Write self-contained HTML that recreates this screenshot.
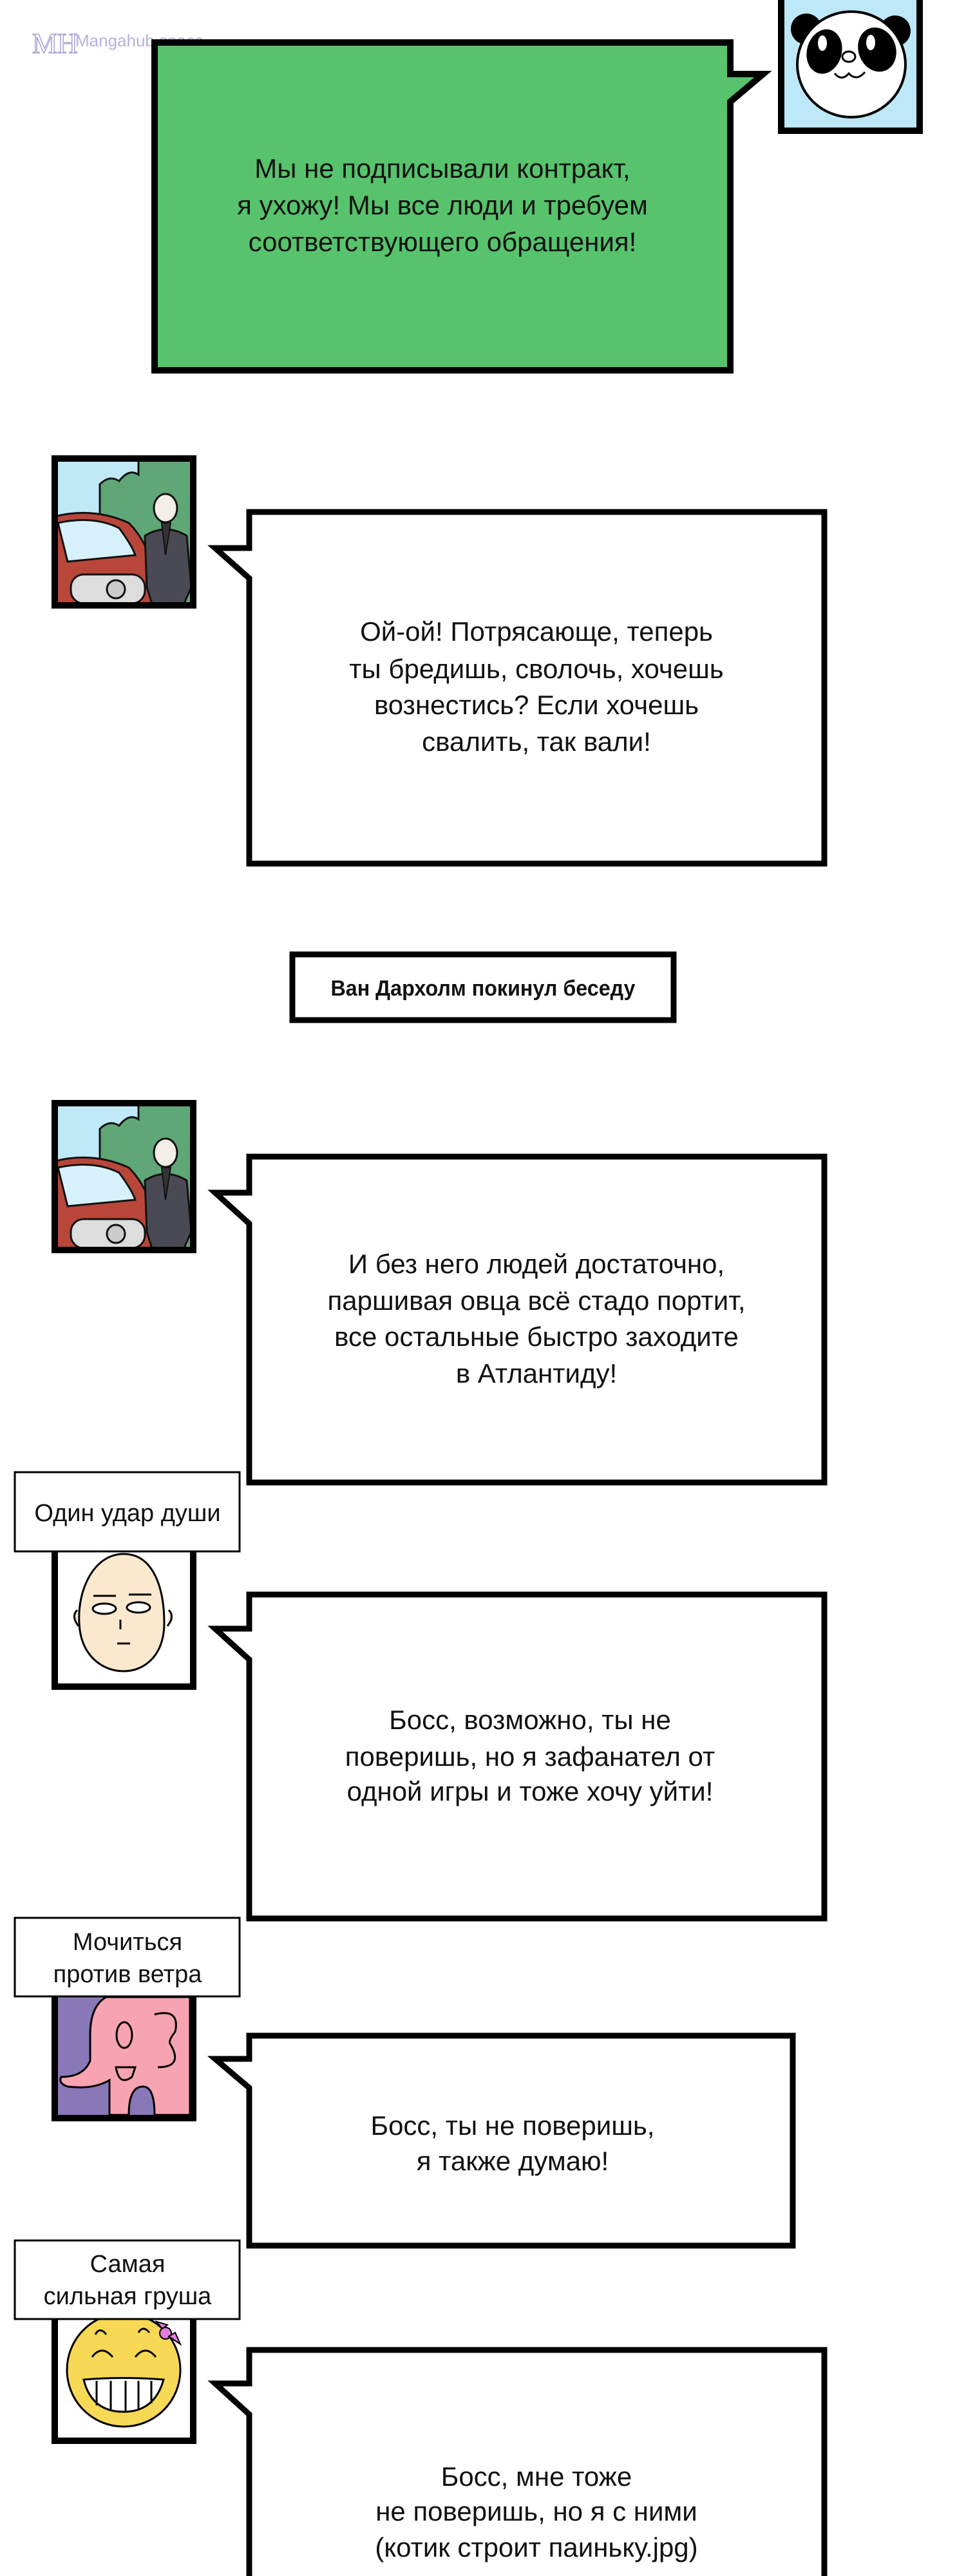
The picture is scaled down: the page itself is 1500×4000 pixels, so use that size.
<!DOCTYPE html>
<html><head><meta charset="utf-8">
<style>
html,body{margin:0;padding:0;background:#fff;}
body{width:1500px;height:4000px;overflow:hidden;}
svg{display:block;}
text{font-family:"Liberation Sans",Arial,sans-serif;fill:#111;}
</style></head>
<body>
<svg width="1500" height="4000" viewBox="0 0 1500 4000" xmlns="http://www.w3.org/2000/svg">
<defs>
  <clipPath id="cc"><rect x="0" y="0" width="215" height="228"/></clipPath>
  <g id="car" clip-path="url(#cc)">
    <rect x="0" y="0" width="215" height="228" fill="#bfe9f7"/>
    <path d="M70,40 Q85,25 100,35 Q115,15 130,25 L130,0 L225,0 L225,238 L70,238 Z" fill="#5fa777" stroke="#111" stroke-width="3"/>
    <path d="M0,90 Q60,75 115,100 Q145,130 155,180 L160,238 L0,238 Z" fill="#b8473a" stroke="#111" stroke-width="3"/>
    <path d="M5,100 Q60,88 100,108 Q120,135 125,150 L20,160 Z" fill="#d6f1fb" stroke="#111" stroke-width="3"/>
    <rect x="25" y="180" width="115" height="45" rx="20" fill="#ddd" stroke="#111" stroke-width="3"/>
    <circle cx="95" cy="203" r="14" fill="#ccc" stroke="#111" stroke-width="3"/>
    <ellipse cx="172" cy="77" rx="18" ry="22" fill="#f4efe6" stroke="#111" stroke-width="3"/>
    <path d="M140,120 Q172,100 205,120 L212,200 L195,238 L155,238 L143,200 Z" fill="#4a4a55" stroke="#111" stroke-width="3"/>
    <path d="M166,100 L172,150 L180,100 Z" fill="#333" stroke="#111" stroke-width="2"/>
  </g>
</defs>

<!-- watermark -->
<text x="50" y="82" font-size="44" style="font-family:'Liberation Serif',serif;fill:none;stroke:#a9a2d6;stroke-width:1.5">MH</text>
<text x="117" y="72" font-size="26" style="fill:#b7b0e0">Mangahub.space</text>

<!-- green bubble -->
<path d="M240,66 H1134 V115 L1185,115 L1134,158 V575 H240 Z" fill="#57c36c" stroke="#000" stroke-width="10" stroke-linejoin="miter"/>
<g font-size="42" text-anchor="middle">
<text x="687" y="276">Мы не подписывали контракт,</text>
<text x="687" y="333">я ухожу! Мы все люди и требуем</text>
<text x="687" y="390">соответствующего обращения!</text>
</g>

<!-- panda avatar -->
<rect x="1213" y="-10" width="215" height="213" fill="#bde8f8" stroke="#000" stroke-width="10"/>
<circle cx="1252" cy="45" r="24" fill="#000"/>
<circle cx="1390" cy="48" r="24" fill="#000"/>
<ellipse cx="1322" cy="100" rx="84" ry="82" fill="#fff" stroke="#000" stroke-width="4"/>
<ellipse cx="1280" cy="80" rx="27" ry="35" fill="#000" transform="rotate(15 1280 80)"/>
<ellipse cx="1362" cy="77" rx="29" ry="35" fill="#000" transform="rotate(-20 1362 77)"/>
<ellipse cx="1277" cy="67" rx="7" ry="12" fill="#fff"/>
<ellipse cx="1352" cy="66" rx="7" ry="12" fill="#fff"/>
<ellipse cx="1318" cy="88" rx="10" ry="8" fill="#fff" stroke="#000" stroke-width="3"/>
<path d="M1296,114 Q1307,127 1318,114 Q1330,127 1343,112" fill="none" stroke="#000" stroke-width="3"/>

<!-- bubble 2 -->
<use href="#car" x="85" y="712"/>
<rect x="85" y="712" width="215" height="228" fill="none" stroke="#000" stroke-width="10"/>
<path d="M387,795 H1280 V1341 H387 V898 L334,851 H387 Z" fill="#fff" stroke="#000" stroke-width="9"/>
<g font-size="42" text-anchor="middle">
<text x="833" y="995">Ой-ой! Потрясающе, теперь</text>
<text x="833" y="1053">ты бредишь, сволочь, хочешь</text>
<text x="833" y="1109">вознестись? Если хочешь</text>
<text x="833" y="1166">свалить, так вали!</text>
</g>

<!-- system -->
<rect x="454" y="1482" width="592" height="102" fill="#fff" stroke="#000" stroke-width="9"/>
<text x="750" y="1546" font-size="34" font-weight="bold" text-anchor="middle" textLength="473" lengthAdjust="spacingAndGlyphs">Ван Дархолм покинул беседу</text>

<!-- bubble 3 -->
<use href="#car" x="85" y="1713"/>
<rect x="85" y="1713" width="215" height="228" fill="none" stroke="#000" stroke-width="10"/>
<path d="M387,1796 H1280 V2302 H387 V1900 L334,1852 H387 Z" fill="#fff" stroke="#000" stroke-width="9"/>
<g font-size="42" text-anchor="middle">
<text x="833" y="1977">И без него людей достаточно,</text>
<text x="833" y="2034">паршивая овца всё стадо портит,</text>
<text x="833" y="2090">все остальные быстро заходите</text>
<text x="833" y="2147">в Атлантиду!</text>
</g>

<!-- saitama -->
<rect x="85" y="2400" width="215" height="219" fill="#fff" stroke="#000" stroke-width="10"/>
<path d="M120,2500 Q110,2510 122,2525 M262,2500 Q272,2510 260,2525" fill="#fce8cf" stroke="#000" stroke-width="3"/>
<path d="M192,2413 C240,2413 255,2470 255,2520 C255,2570 225,2595 192,2595 C158,2595 125,2570 123,2520 C120,2470 145,2413 192,2413 Z" fill="#fce8cf" stroke="#000" stroke-width="3"/>
<path d="M145,2478 H180 M200,2476 H235" stroke="#000" stroke-width="3"/>
<ellipse cx="162" cy="2498" rx="18" ry="8" fill="#fff" stroke="#000" stroke-width="3"/>
<ellipse cx="215" cy="2496" rx="18" ry="8" fill="#fff" stroke="#000" stroke-width="3"/>
<path d="M187,2515 V2530 M182,2552 H202" stroke="#000" stroke-width="3"/>
<rect x="23" y="2286" width="349" height="123" fill="#fff" stroke="#000" stroke-width="3"/>
<text x="198" y="2362" font-size="38" text-anchor="middle">Один удар души</text>

<!-- bubble 4 -->
<path d="M387,2476 H1280 V2979 H387 V2577 L334,2529 H387 Z" fill="#fff" stroke="#000" stroke-width="9"/>
<g font-size="42" text-anchor="middle">
<text x="823" y="2685">Босс, возможно, ты не</text>
<text x="823" y="2742">поверишь, но я зафанател от</text>
<text x="823" y="2796">одной игры и тоже хочу уйти!</text>
</g>

<!-- elephant -->
<rect x="85" y="3095" width="215" height="194" fill="#8878b8" stroke="#000" stroke-width="10"/>
<path d="M165,3101 L295,3101 L295,3284 L240,3284 Q240,3240 222,3240 Q200,3240 200,3284 L170,3284 L170,3230 Q145,3245 105,3240 Q90,3235 95,3225 Q130,3225 140,3200 L140,3160 Q140,3115 165,3101 Z" fill="#f8a3b2" stroke="#000" stroke-width="3"/>
<rect x="85" y="3095" width="215" height="194" fill="none" stroke="#000" stroke-width="10"/>
<ellipse cx="193" cy="3160" rx="12" ry="20" fill="none" stroke="#000" stroke-width="3"/>
<path d="M240,3128 Q280,3118 272,3155 Q260,3170 265,3175 Q285,3210 245,3210" fill="none" stroke="#000" stroke-width="3"/>
<path d="M180,3210 Q185,3240 205,3225 L210,3210 Z" fill="none" stroke="#000" stroke-width="3"/>
<rect x="23" y="2978" width="349" height="122" fill="#fff" stroke="#000" stroke-width="3"/>
<g font-size="38" text-anchor="middle">
<text x="198" y="3028">Мочиться</text>
<text x="198" y="3078">против ветра</text>
</g>

<!-- bubble 5 -->
<path d="M387,3161 H1231 V3487 H387 V3242 L334,3197 H387 Z" fill="#fff" stroke="#000" stroke-width="9"/>
<g font-size="42" text-anchor="middle">
<text x="796" y="3315">Босс, ты не поверишь,</text>
<text x="796" y="3370">я также думаю!</text>
</g>

<!-- smiley -->
<rect x="85" y="3596" width="215" height="194" fill="#fff" stroke="#000" stroke-width="10"/>
<circle cx="192" cy="3680" r="88" fill="#f8d956" stroke="#000" stroke-width="3"/>
<path d="M143,3660 Q158,3640 175,3660 M210,3660 Q226,3640 242,3660 M148,3625 Q155,3612 165,3625 M215,3622 Q222,3610 232,3622" fill="none" stroke="#000" stroke-width="3"/>
<path d="M130,3695 Q192,3690 254,3695 Q240,3745 192,3745 Q142,3745 130,3695 Z" fill="#fff" stroke="#000" stroke-width="3"/>
<path d="M150,3697 V3735 M172,3697 V3744 M195,3697 V3745 M215,3697 V3742 M235,3697 V3732" stroke="#000" stroke-width="3"/>
<circle cx="257" cy="3623" r="9" fill="#e27de0" stroke="#000" stroke-width="2"/>
<path d="M252,3616 L243,3605 L260,3610 Z M262,3628 L280,3640 L272,3622 Z" fill="#e27de0" stroke="#000" stroke-width="2"/>
<rect x="23" y="3479" width="349" height="122" fill="#fff" stroke="#000" stroke-width="3"/>
<g font-size="38" text-anchor="middle">
<text x="198" y="3528">Самая</text>
<text x="198" y="3578">сильная груша</text>
</g>

<!-- bubble 6 -->
<path d="M387,3649 H1280 V4020 H387 V3749 L334,3701 H387 Z" fill="#fff" stroke="#000" stroke-width="9"/>
<g font-size="42" text-anchor="middle">
<text x="833" y="3860">Босс, мне тоже</text>
<text x="833" y="3914">не поверишь, но я с ними</text>
<text x="833" y="3970">(котик строит паиньку.jpg)</text>
</g>
</svg>
</body></html>
